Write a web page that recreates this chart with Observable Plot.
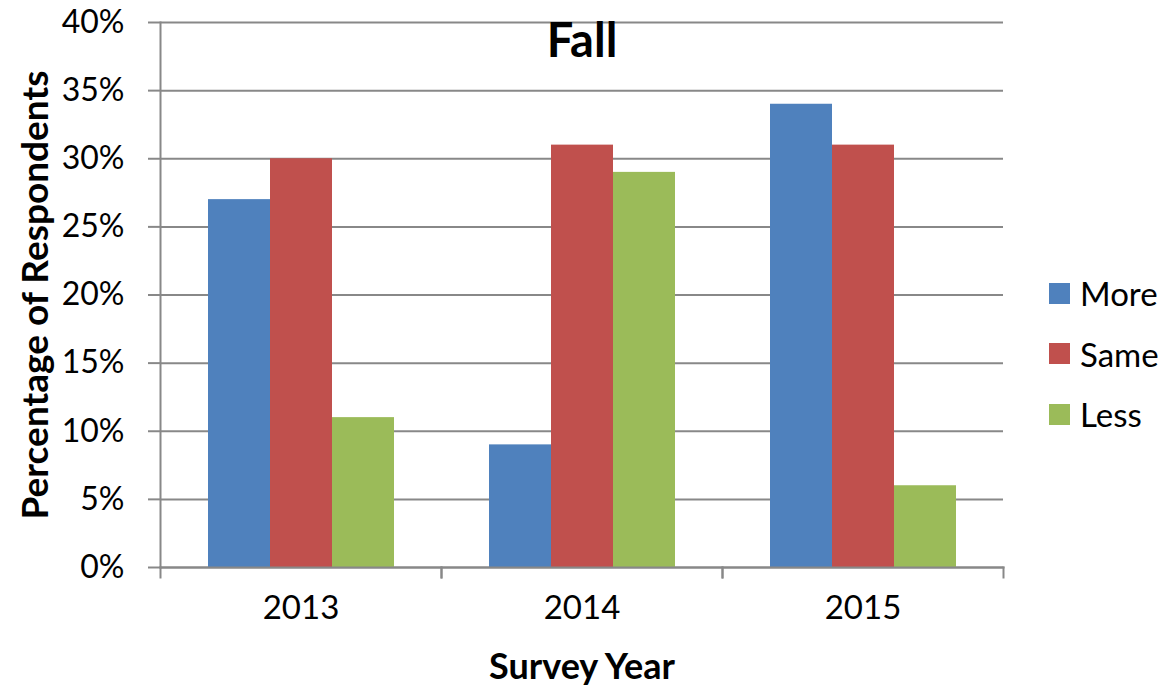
<!DOCTYPE html>
<html>
<head>
<meta charset="utf-8">
<script src="https://cdn.jsdelivr.net/npm/d3@7"></script>
<script src="https://cdn.jsdelivr.net/npm/@observablehq/plot@0.6"></script>
<style>
  body { margin: 0; background: #fff; font-family: Lato, sans-serif; }
  #wrap { position: relative; width: 1165px; height: 686px; }
  #legend { position: absolute; left: 1049px; top: 263px; }
  .item { display: flex; align-items: center; height: 60.5px; font-size: 33px; color: #000; }
  .sw { width: 21px; height: 21px; margin-right: 10px; }
</style>
</head>
<body>
<div id="wrap"><div id="legend"></div></div>
<script>
const years = ["2013", "2014", "2015"];
const series = ["More", "Same", "Less"];
const colors = ["#4F81BD", "#C0504D", "#9BBB59"];
const moreValues = [0.27, 0.09, 0.34];
const sameValues = [0.30, 0.31, 0.31];
const lessValues = [0.11, 0.29, 0.06];
const yTicks = [0, 0.05, 0.10, 0.15, 0.20, 0.25, 0.30, 0.35, 0.40];
const titleText = "Fall";
const xLabel = "Survey Year";
const yLabel = "Percentage of Respondents";

const valuesBySeries = {More: moreValues, Same: sameValues, Less: lessValues};
const data = [];
years.forEach((yr, i) => series.forEach(s => data.push({year: yr, series: s, value: valuesBySeries[s][i]})));

const W = 1165, H = 686, mL = 159, mR = 162, mT = 22, mB = 119;
const plotH = H - mT - mB;
const gridStroke = "#888888";

const chart = Plot.plot({
  width: W, height: H,
  marginLeft: mL, marginRight: mR, marginTop: mT, marginBottom: mB,
  style: {fontFamily: "Lato, sans-serif", color: "#000", background: "#fff"},
  fx: {domain: years, padding: 0, label: null},
  x: {domain: series, paddingInner: 0, paddingOuter: 0.757, axis: null},
  y: {domain: [0, 0.4], axis: null},
  color: {domain: series, range: colors},
  marks: [
    Plot.gridY(yTicks, {stroke: gridStroke, strokeOpacity: 1, strokeWidth: 2}),
    Plot.barY(data, {fx: "year", x: "series", y: "value", fill: "series", insetLeft: 0, insetRight: 0}),
    Plot.axisY(yTicks, {tickSize: 12, tickPadding: 24, stroke: gridStroke, strokeWidth: 2, strokeOpacity: 1,
      tickFormat: d3.format(".0%"), fontSize: 32, label: null}),
    Plot.axisFx({anchor: "bottom", tickSize: 0, tickPadding: 28, fontSize: 33, label: null}),
    Plot.frame({anchor: "left", facet: "super", stroke: gridStroke, strokeWidth: 2}),
    Plot.frame({anchor: "bottom", facet: "super", stroke: gridStroke, strokeWidth: 2}),
    Plot.frame({anchor: "left", stroke: gridStroke, strokeWidth: 2, insetTop: plotH, insetBottom: -10}),
    Plot.frame({anchor: "right", stroke: gridStroke, strokeWidth: 2, insetTop: plotH, insetBottom: -10}),
    Plot.text([titleText], {facet: "super", frameAnchor: "top", dy: 19, fontSize: 47, fontWeight: "bold", lineAnchor: "middle"}),
    Plot.text([yLabel], {facet: "super", frameAnchor: "left", textAnchor: "middle", dx: -124, rotate: -90, fontSize: 37, fontWeight: "bold", lineAnchor: "middle"}),
    Plot.text([xLabel], {facet: "super", frameAnchor: "bottom", dy: 100, fontSize: 36, fontWeight: "bold", lineAnchor: "middle"})
  ]
});
document.getElementById("wrap").prepend(chart);

const legend = document.getElementById("legend");
series.forEach((s, i) => {
  const item = document.createElement("div");
  item.className = "item";
  item.innerHTML = `<div class="sw" style="background:${colors[i]}"></div><span>${s}</span>`;
  legend.appendChild(item);
});
</script>
</body>
</html>
